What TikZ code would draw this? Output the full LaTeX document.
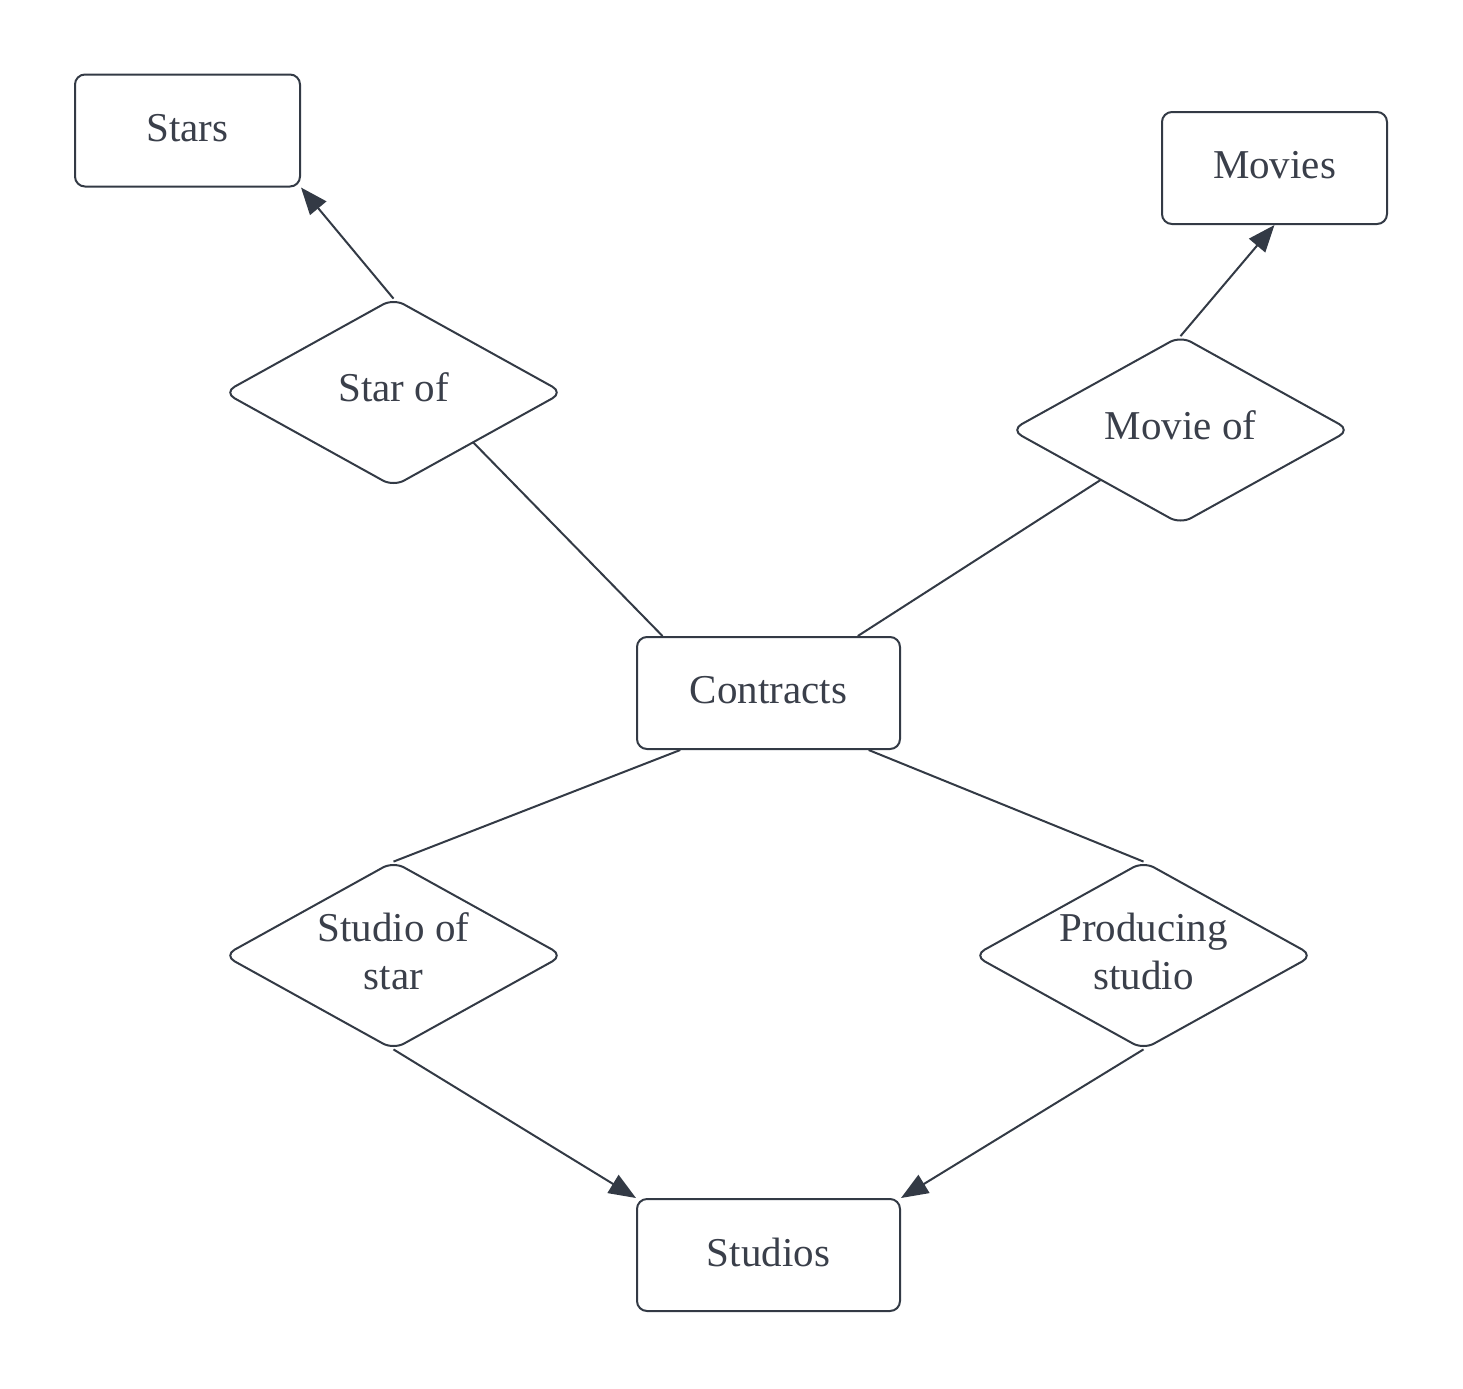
\documentclass[tikz,border=0pt]{standalone}
\usepackage{fontspec}
\setmainfont{Liberation Serif}
\usetikzlibrary{arrows.meta,calc}
\definecolor{ink}{HTML}{333A45}
\definecolor{txt}{HTML}{3A3F4A}
\begin{document}
\begin{tikzpicture}[x=0.5pt,y=-0.5pt,
  lbl/.style={text=txt, font=\fontsize{20.5}{24}\selectfont, align=center},
  entity/.style={draw=ink, line width=1pt, rounded corners=5pt, minimum width=131.5pt, minimum height=56pt, inner sep=0pt},
  relbox/.style={minimum width=169pt, minimum height=93.5pt, inner sep=0pt},
  rel/.style={draw=ink, line width=1pt, rounded corners=6pt},
  link/.style={draw=ink, line width=1pt},
  arr/.style={link, -{Triangle[length=13.5pt,width=10.5pt]}, fill=ink}]
\useasboundingbox (0,0) rectangle (1463,1388);
% entities
\node[entity, minimum width=112.5pt, label={[lbl,yshift=1.2pt]center:Stars}] (stars) at (187.5,130.5) {};
\node[entity, minimum width=112.5pt, label={[lbl,yshift=1.2pt]center:Movies}] (movies) at (1274.5,168) {};
\node[entity, label={[lbl,yshift=1.5pt]center:Contracts}] (contracts) at (768.5,693) {};
\node[entity, label={[lbl,yshift=1.5pt]center:Studios}] (studios) at (768.5,1255) {};
% relationships
\node[relbox, label={[lbl,yshift=2.5pt]center:Star of}] (starof) at (393.5,392.5) {};
\node[relbox, label={[lbl,yshift=2.5pt]center:Movie of}] (movieof) at (1180.5,430) {};
\node[relbox, label={[lbl,yshift=2pt]center:Studio of\\star}] (studioof) at (393.5,955.5) {};
\node[relbox, label={[lbl,yshift=2pt]center:Producing\\studio}] (producing) at (1143.5,955.5) {};
\foreach \r in {starof,movieof,studioof,producing}{
  \draw[rel] (\r.north) -- (\r.east) -- (\r.south) -- (\r.west) -- cycle;
}
% connectors
\draw[arr] (starof.north) -- (stars.south east);
\draw[arr] (movieof.north) -- (movies.south);
\draw[link] ($(starof.east)!0.53!(starof.south)$) -- ($(contracts.north west)!0.1!(contracts.north east)$);
\draw[link] ($(movieof.west)!0.53!(movieof.south)$) -- ($(contracts.north west)!0.837!(contracts.north east)$);
\draw[link] ($(contracts.south west)!0.167!(contracts.south east)$) -- (studioof.north);
\draw[link] ($(contracts.south west)!0.878!(contracts.south east)$) -- (producing.north);
\draw[arr] (studioof.south) -- (studios.north west);
\draw[arr] (producing.south) -- (studios.north east);
\end{tikzpicture}
\end{document}
